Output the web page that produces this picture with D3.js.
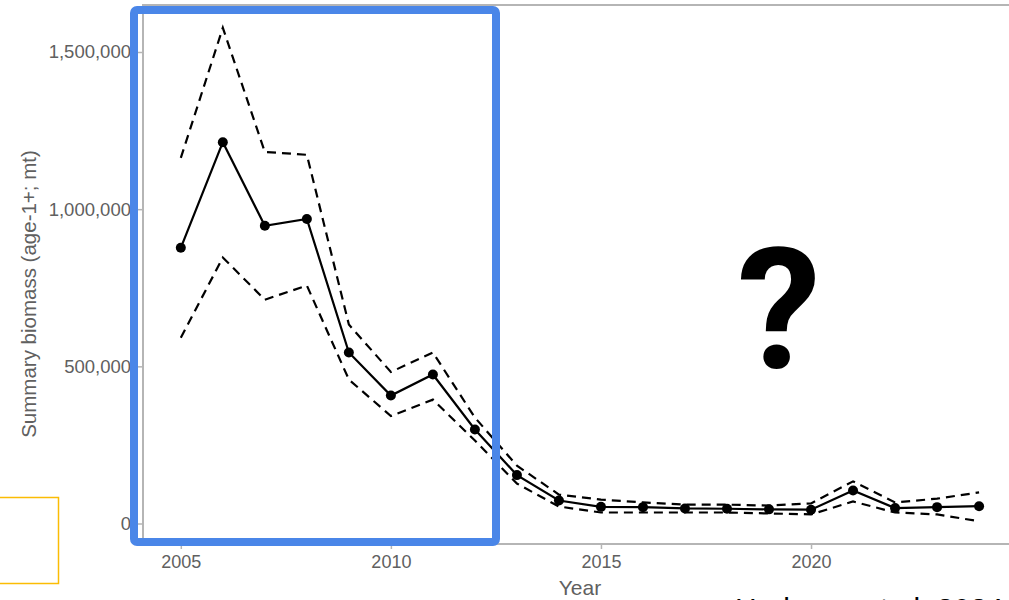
<!DOCTYPE html>
<html>
<head>
<meta charset="utf-8">
<script src="https://cdn.jsdelivr.net/npm/d3@7"></script>
<style>
  html, body { margin: 0; padding: 0; background: #fff; }
  svg { display: block; }
</style>
</head>
<body>
<svg id="chart" width="1009" height="600"></svg>
<script>
// ---- data ----
const years = [2005, 2006, 2007, 2008, 2009, 2010, 2011, 2012, 2013, 2014,
               2015, 2016, 2017, 2018, 2019, 2020, 2021, 2022, 2023, 2024];
const biomass = [877000, 1213000, 947000, 969000, 544000, 407000, 474000, 299000, 154000, 73000,
                 53000, 52000, 48000, 47000, 45000, 44000, 105000, 49000, 52000, 55000];
const upper = [1163000, 1577000, 1182000, 1173000, 633000, 482000, 544000, 337000, 184000, 92000,
               76000, 67000, 60000, 60000, 57000, 64000, 134000, 67000, 79000, 99000];
const lower = [591000, 846000, 712000, 757000, 458000, 342000, 394000, 264000, 127000, 54000,
               35000, 35000, 35000, 35000, 32000, 29000, 70000, 35000, 29000, 7000];
const yTicks = [0, 500000, 1000000, 1500000];
const xTicks = [2005, 2010, 2015, 2020];
const yTitle = "Summary biomass (age-1+; mt)";
const xTitle = "Year";
const source = "Hodgson et al. 2024";

// ---- layout ----
const panel = { left: 143, top: 5, bottom: 544, right: 1019 };
const svg = d3.select("#chart");

const x = d3.scaleLinear().domain([2004.1, 2024.95]).range([panel.left, panel.right]);
const y = d3.scaleLinear().domain([0, 1500000]).range([523.5, 52]);

const axisColor = "#b5b5b5";
const labelColor = "#606060";
const font = "'Liberation Sans', Arial, sans-serif";

// panel border (left, top, bottom)
svg.append("rect")
  .attr("x", panel.left).attr("y", panel.top)
  .attr("width", panel.right - panel.left).attr("height", panel.bottom - panel.top)
  .attr("fill", "none").attr("stroke", axisColor).attr("stroke-width", 2);

// y axis
const yAxis = svg.append("g")
  .attr("transform", `translate(${panel.left},0)`)
  .call(d3.axisLeft(y).tickValues(yTicks).tickFormat(d3.format(",")).tickSize(5).tickPadding(7));
yAxis.select(".domain").remove();
yAxis.selectAll(".tick line").attr("stroke", axisColor).attr("stroke-width", 1.5);
yAxis.selectAll(".tick text").attr("fill", labelColor).style("font-family", font).style("font-size", "18.5px");

// x axis
const xAxis = svg.append("g")
  .attr("transform", `translate(0,${panel.bottom})`)
  .call(d3.axisBottom(x).tickValues(xTicks).tickFormat(d3.format("d")).tickSize(5).tickPadding(6));
xAxis.select(".domain").remove();
xAxis.selectAll(".tick line").attr("stroke", axisColor).attr("stroke-width", 1.5);
xAxis.selectAll(".tick text").attr("fill", labelColor).style("font-family", font).style("font-size", "18px");

// axis titles
svg.append("text")
  .attr("transform", `translate(36,294) rotate(-90)`)
  .attr("text-anchor", "middle")
  .attr("fill", labelColor)
  .style("font-family", font).style("font-size", "20.5px")
  .text(yTitle);

svg.append("text")
  .attr("x", 580).attr("y", 595)
  .attr("text-anchor", "middle")
  .attr("fill", labelColor)
  .style("font-family", font).style("font-size", "21px")
  .text(xTitle);

// lines
const line = d3.line().x(d => x(d[0])).y(d => y(d[1]));
const zip = arr => years.map((yr, i) => [yr, arr[i]]);

svg.append("path").datum(zip(upper)).attr("d", line)
  .attr("fill", "none").attr("stroke", "#000").attr("stroke-width", 2.2).attr("stroke-dasharray", "9,6");
svg.append("path").datum(zip(lower)).attr("d", line)
  .attr("fill", "none").attr("stroke", "#000").attr("stroke-width", 2.2).attr("stroke-dasharray", "9,6");
svg.append("path").datum(zip(biomass)).attr("d", line)
  .attr("fill", "none").attr("stroke", "#000").attr("stroke-width", 2.2);

svg.append("g").selectAll("circle").data(zip(biomass)).join("circle")
  .attr("cx", d => x(d[0])).attr("cy", d => y(d[1])).attr("r", 5).attr("fill", "#000");

// annotations
svg.append("rect")
  .attr("x", 134).attr("y", 10).attr("width", 362).attr("height", 532)
  .attr("rx", 3)
  .attr("fill", "none").attr("stroke", "#4a86e8").attr("stroke-width", 8);

svg.append("rect")
  .attr("x", -20).attr("y", 497.5).attr("width", 78.5).attr("height", 86)
  .attr("fill", "none").attr("stroke", "#fbbc04").attr("stroke-width", 1.5);

svg.append("text")
  .attr("x", 779).attr("y", 368)
  .attr("text-anchor", "middle")
  .attr("fill", "#000")
  .style("font-family", "Roboto, 'Liberation Sans', sans-serif").style("font-weight", "bold").style("font-size", "168px")
  .text("?");

svg.append("text")
  .attr("x", 735).attr("y", 619)
  .attr("fill", "#000")
  .style("font-family", font).style("font-size", "30px")
  .text(source);
</script>
</body>
</html>
